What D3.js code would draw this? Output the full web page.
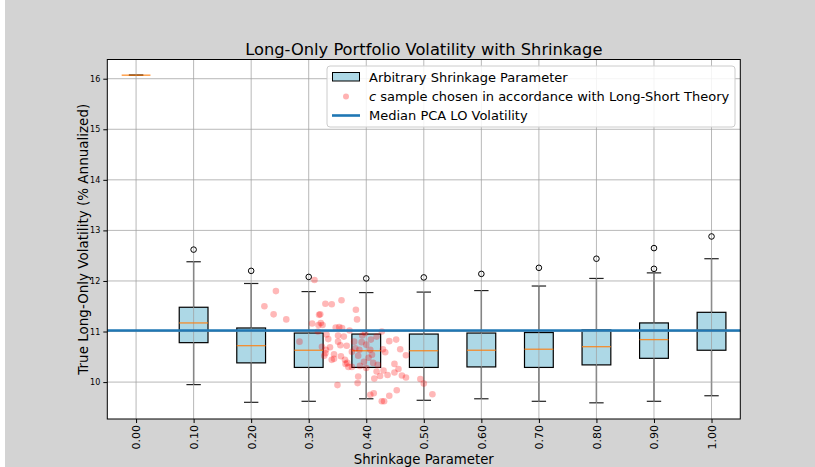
<!DOCTYPE html>
<html lang="en">
<head>
	<meta charset="utf-8">
	<title>Long-Only Portfolio Volatility with Shrinkage</title>
	<script src="https://cdn.jsdelivr.net/npm/d3@7"></script>
	<style>
		body { margin: 0; background: #fff; }
		text { font-family: "DejaVu Sans", sans-serif; fill: #000; }
	</style>
</head>
<body>
	<script>
		// shrinkage parameters (one box per value)
		var shrinkage = [0.00, 0.10, 0.20, 0.30, 0.40, 0.50, 0.60, 0.70, 0.80, 0.90, 1.00];
		var tickLabels = ["0.00", "0.10", "0.20", "0.30", "0.40", "0.50", "0.60", "0.70", "0.80", "0.90", "1.00"];

		// box stats
		var whiskerLow  = [16.07, 9.95, 9.60, 9.62, 9.67, 9.64, 9.67, 9.62, 9.59, 9.62, 9.73];
		var q1          = [16.07, 10.78, 10.38, 10.29, 10.29, 10.29, 10.30, 10.29, 10.34, 10.47, 10.63];
		var medians     = [16.07, 11.17, 10.72, 10.63, 10.62, 10.62, 10.63, 10.65, 10.70, 10.84, 11.03];
		var q3          = [16.07, 11.48, 11.07, 10.97, 10.95, 10.95, 10.97, 10.98, 11.03, 11.17, 11.38];
		var whiskerHigh = [16.07, 12.38, 11.95, 11.79, 11.77, 11.78, 11.81, 11.90, 12.05, 12.16, 12.44];
		var fliers = [[], [12.62], [12.20], [12.08], [12.05], [12.07], [12.14], [12.26], [12.44], [12.24, 12.65], [12.88]];

		var medianPCA = 11.02;

		// c sample: [shrinkage, volatility]
		var cSample = [
			[0.243, 11.80], [0.223, 11.50], [0.239, 11.34], [0.261, 11.24], [0.310, 12.02],
			[0.306, 11.16], [0.318, 11.33], [0.317, 11.13], [0.316, 11.00], [0.284, 10.80],
			[0.329, 11.55], [0.340, 11.54], [0.357, 11.62], [0.320, 11.34], [0.321, 11.17],
			[0.324, 11.13], [0.382, 11.43], [0.384, 11.24], [0.347, 11.08], [0.358, 11.07],
			[0.371, 11.02], [0.331, 10.94], [0.334, 10.85], [0.351, 10.80], [0.355, 10.73],
			[0.366, 10.72], [0.323, 10.70], [0.337, 10.69], [0.344, 10.55], [0.356, 10.51],
			[0.363, 10.44], [0.367, 10.38], [0.369, 10.30], [0.375, 10.30], [0.398, 10.97],
			[0.418, 10.90], [0.381, 10.67], [0.388, 10.64], [0.392, 10.79], [0.407, 10.64],
			[0.404, 10.48], [0.412, 10.38], [0.420, 10.34], [0.418, 10.21], [0.414, 10.07],
			[0.424, 10.12], [0.386, 10.11], [0.385, 9.98], [0.350, 9.94], [0.407, 9.75],
			[0.413, 9.78], [0.427, 9.62], [0.427, 11.00], [0.440, 10.81], [0.452, 10.84],
			[0.429, 10.65], [0.433, 10.59], [0.459, 10.65], [0.469, 10.53], [0.449, 10.36],
			[0.430, 10.23], [0.437, 10.14], [0.449, 10.19], [0.456, 10.26], [0.462, 10.13],
			[0.469, 10.09], [0.494, 10.06], [0.500, 9.97], [0.453, 9.84], [0.440, 9.73],
			[0.431, 9.62], [0.515, 9.76], [0.393, 10.92], [0.400, 10.74], [0.408, 10.84],
			[0.386, 10.52], [0.396, 10.40], [0.410, 10.54], [0.400, 10.28], [0.375, 10.60],
			[0.389, 10.32], [0.327, 10.52], [0.340, 10.44], [0.351, 10.92], [0.361, 10.90],
			[0.330, 10.64], [0.379, 10.80], [0.329, 10.57], [0.344, 10.46], [0.364, 10.36],
			[0.353, 11.09]
		];

		var yTicks = [10, 11, 12, 13, 14, 15, 16];

		var width = 815, height = 467;
		var margin = {left: 107.3, right: 74.7, top: 59.5, bottom: 48};
		var plotW = width - margin.left - margin.right;
		var plotH = height - margin.top - margin.bottom;

		var svg = d3.select("body").append("svg")
			.attr("width", width)
			.attr("height", height);

		// figure background
		svg.append("rect").attr("x", 5).attr("y", 0)
			.attr("width", width - 5).attr("height", height)
			.attr("fill", "#d3d3d3");

		var g = svg.append("g").attr("transform", "translate(" + margin.left + "," + margin.top + ")");

		// boxplot positions are 1..11
		var x = d3.scaleLinear().domain([0.5, 11.5]).range([0, plotW]);
		var y = d3.scaleLinear().domain([9.27, 16.38]).range([plotH, 0]);
		var pos = function(s) { return x(s * 10 + 1); };
		var boxW = x(1.25) - x(0.75);

		g.append("rect").attr("width", plotW).attr("height", plotH).attr("fill", "#fff");

		var boxes = shrinkage.map(function(s, i) {
			return {s: s, lo: whiskerLow[i], q1: q1[i], med: medians[i], q3: q3[i], hi: whiskerHigh[i], fl: fliers[i]};
		});

		// whiskers and caps
		var wg = g.append("g");
		boxes.forEach(function(b) {
			var cx = pos(b.s);
			wg.append("line").attr("x1", cx).attr("x2", cx).attr("y1", y(b.lo)).attr("y2", y(b.q1))
				.attr("stroke", "#555").attr("stroke-width", 1.4);
			wg.append("line").attr("x1", cx).attr("x2", cx).attr("y1", y(b.q3)).attr("y2", y(b.hi))
				.attr("stroke", "#555").attr("stroke-width", 1.4);
			[b.lo, b.hi].forEach(function(v) {
				wg.append("line").attr("x1", cx - boxW / 4).attr("x2", cx + boxW / 4)
					.attr("y1", y(v)).attr("y2", y(v))
					.attr("stroke", "#222").attr("stroke-width", 1.2);
			});
		});

		// boxes
		g.append("g").selectAll("rect")
			.data(boxes)
			.enter()
			.append("rect")
			.attr("x", function(d) { return pos(d.s) - boxW / 2; })
			.attr("y", function(d) { return y(d.q3); })
			.attr("width", boxW)
			.attr("height", function(d) { return Math.max(0, y(d.q1) - y(d.q3)); })
			.attr("fill", "#add8e6")
			.attr("stroke", "#000")
			.attr("stroke-width", 1.2);

		// grid on top of the boxes
		var grid = g.append("g").attr("stroke", "#a0a0a0").attr("stroke-opacity", 0.75).attr("stroke-width", 1);
		grid.selectAll(".gx").data(shrinkage).enter().append("line")
			.attr("x1", pos).attr("x2", pos).attr("y1", 0).attr("y2", plotH);
		grid.selectAll(".gy").data(yTicks).enter().append("line")
			.attr("x1", 0).attr("x2", plotW).attr("y1", y).attr("y2", y);

		// medians
		g.append("g").selectAll("line")
			.data(boxes)
			.enter()
			.append("line")
			.attr("x1", function(d) { return pos(d.s) - boxW / 2; })
			.attr("x2", function(d) { return pos(d.s) + boxW / 2; })
			.attr("y1", function(d) { return y(d.med); })
			.attr("y2", function(d) { return y(d.med); })
			.attr("stroke", "#ff7f0e")
			.attr("stroke-opacity", 0.85)
			.attr("stroke-width", 1.3);

		// fliers
		var fl = [];
		boxes.forEach(function(b) { b.fl.forEach(function(v) { fl.push([b.s, v]); }); });
		g.append("g").selectAll("circle")
			.data(fl)
			.enter()
			.append("circle")
			.attr("cx", function(d) { return pos(d[0]); })
			.attr("cy", function(d) { return y(d[1]); })
			.attr("r", 2.8)
			.attr("fill", "none")
			.attr("stroke", "#000")
			.attr("stroke-width", 1);

		// c samples
		g.append("g").selectAll("circle")
			.data(cSample)
			.enter()
			.append("circle")
			.attr("cx", function(d) { return pos(d[0]); })
			.attr("cy", function(d) { return y(d[1]); })
			.attr("r", 3.3)
			.attr("fill", "#ff0000")
			.attr("fill-opacity", 0.28);

		// median PCA line
		g.append("line")
			.attr("x1", 0).attr("x2", plotW)
			.attr("y1", y(medianPCA)).attr("y2", y(medianPCA))
			.attr("stroke", "#1f77b4").attr("stroke-width", 2.6);

		// axes
		var yAxis = g.append("g").call(d3.axisLeft(y).tickValues(yTicks).tickFormat(d3.format("d")).tickSize(4).tickPadding(3));
		var xAxis = g.append("g").attr("transform", "translate(0," + plotH + ")")
			.call(d3.axisBottom(x).tickValues(d3.range(1, 12)).tickFormat(function(d) { return tickLabels[d - 1]; }).tickSize(4));
		xAxis.selectAll("text")
			.attr("transform", "rotate(-90)")
			.attr("text-anchor", "end")
			.attr("x", -6).attr("y", 0).attr("dy", "0.35em");
		[xAxis, yAxis].forEach(function(a) {
			a.select(".domain").remove();
			a.selectAll("text").style("font-family", "DejaVu Sans").attr("fill", "#000");
			a.selectAll("line").attr("stroke", "#000");
		});
		yAxis.selectAll("text").style("font-size", "8px");
		xAxis.selectAll("text").style("font-size", "11px");

		g.append("rect").attr("width", plotW).attr("height", plotH)
			.attr("fill", "none").attr("stroke", "#000").attr("stroke-width", 1);

		// titles
		svg.append("text").attr("x", margin.left + plotW / 2).attr("y", 55)
			.attr("text-anchor", "middle").style("font-size", "16.3px")
			.text("Long-Only Portfolio Volatility with Shrinkage");
		svg.append("text").attr("x", margin.left + plotW / 2).attr("y", 464)
			.attr("text-anchor", "middle").style("font-size", "13.3px")
			.text("Shrinkage Parameter");
		svg.append("text")
			.attr("transform", "translate(88," + (margin.top + plotH / 2) + ") rotate(-90)")
			.attr("text-anchor", "middle").style("font-size", "13.5px")
			.text("True Long-Only Volatility (% Annualized)");

		// legend
		var lg = svg.append("g").attr("transform", "translate(327,66)");
		lg.append("rect").attr("width", 408).attr("height", 61).attr("rx", 3)
			.attr("fill", "#fff").attr("fill-opacity", 0.85).attr("stroke", "#ccc");
		lg.append("rect").attr("x", 5.5).attr("y", 6.5).attr("width", 27).attr("height", 8.5)
			.attr("fill", "#add8e6").attr("stroke", "#000");
		lg.append("circle").attr("cx", 19).attr("cy", 30.5).attr("r", 3)
			.attr("fill", "#ff0000").attr("fill-opacity", 0.3);
		lg.append("line").attr("x1", 5).attr("x2", 33).attr("y1", 49.5).attr("y2", 49.5)
			.attr("stroke", "#1f77b4").attr("stroke-width", 2.6);
		var lt = [
			{y: 15.5, t: "Arbitrary Shrinkage Parameter"},
			{y: 35, t: " sample chosen in accordance with Long-Short Theory", it: "c"},
			{y: 54, t: "Median PCA LO Volatility"}
		];
		lt.forEach(function(d) {
			var t = lg.append("text").attr("x", 42).attr("y", d.y).style("font-size", "13px");
			if (d.it) t.append("tspan").style("font-style", "italic").text(d.it);
			t.append("tspan").text(d.t);
		});
	</script>
</body>
</html>
